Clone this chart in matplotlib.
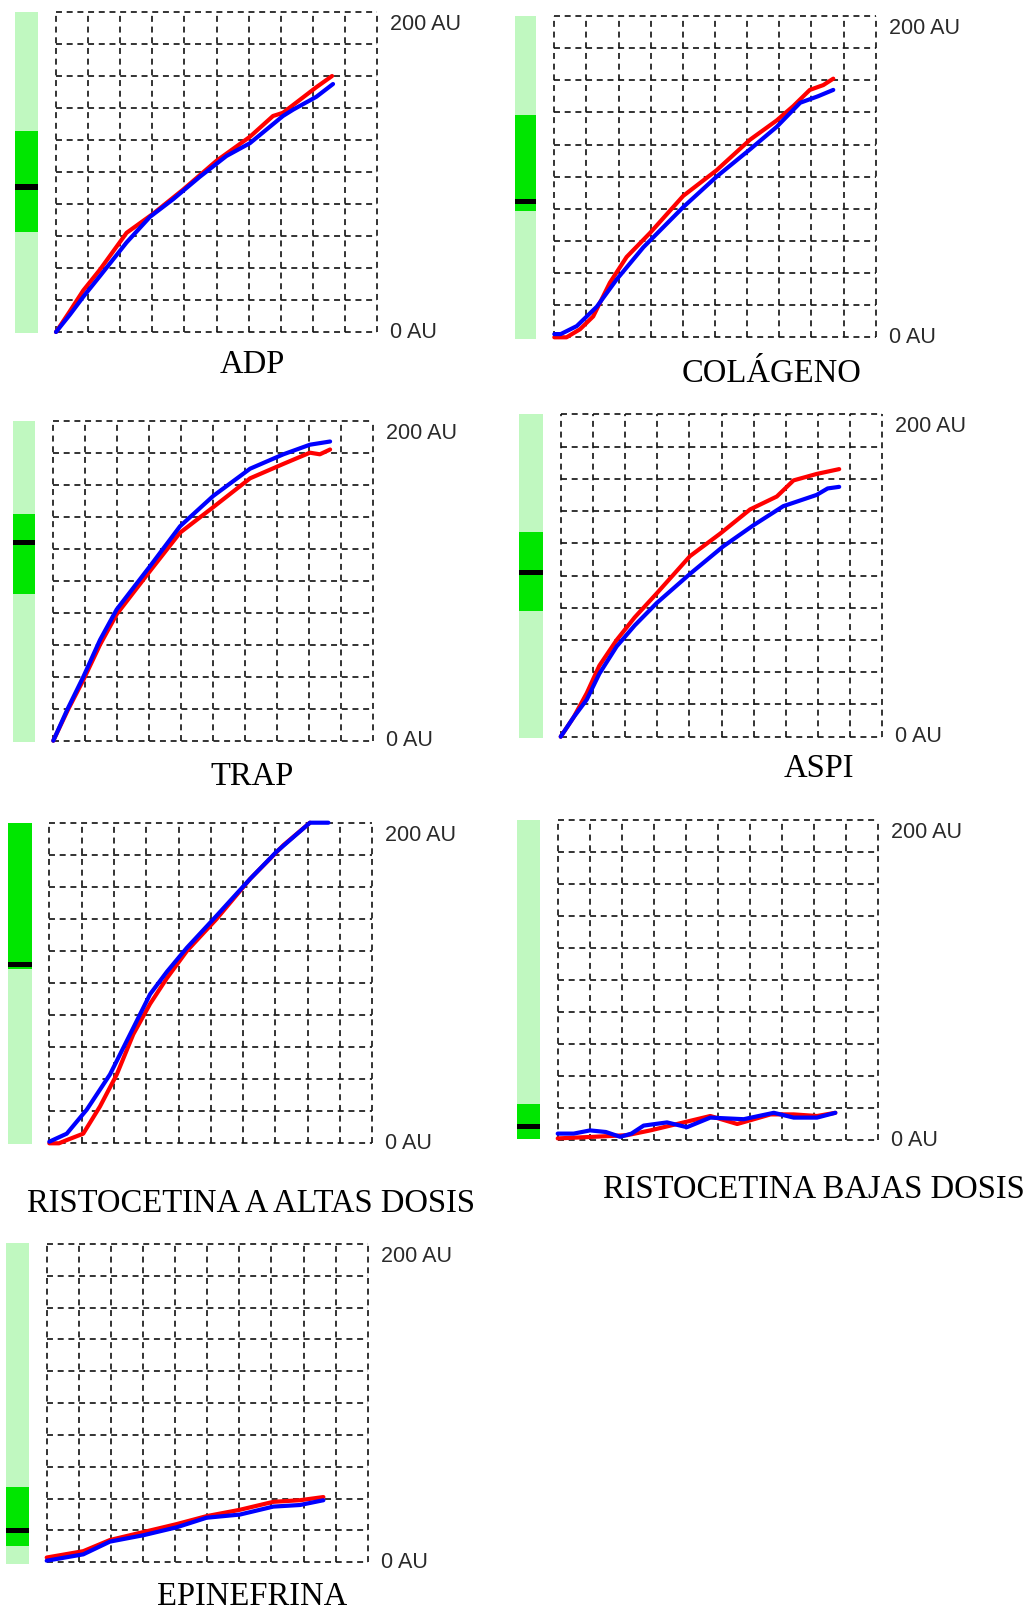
import numpy as np
import matplotlib
matplotlib.use('Agg')
import matplotlib.pyplot as plt

# Aggregation curves. x is in grid columns (0-10), y in AU (0-200)
titles = ['ADP', 'COLÁGENO', 'TRAP', 'ASPI',
          'RISTOCETINA A ALTAS DOSIS', 'RISTOCETINA BAJAS DOSIS', 'EPINEFRINA']

adp_red_x = [0, 0.4, 0.85, 1.37, 2.2, 3.03, 3.96, 5.0, 6.04, 6.76, 7.07, 7.59, 8.11, 8.6]
adp_red_y = [0, 12, 26, 39, 62, 74, 89, 107, 122, 135, 137, 145, 153, 160]
adp_blue_x = [0, 0.44, 0.85, 1.37, 2.2, 2.93, 3.65, 4.48, 5.31, 6.04, 7.07, 7.39, 8.11, 8.63]
adp_blue_y = [0, 11, 22, 35, 56, 72, 83, 97, 110, 118, 135, 139, 147, 155]

col_red_x = [0, 0.38, 0.8, 1.21, 1.73, 2.25, 2.98, 4.01, 5.05, 6.09, 6.92, 7.44, 7.95, 8.37, 8.68]
col_red_y = [0, 0, 5, 13, 34, 50, 65, 88, 104, 123, 135, 144, 154, 157, 161]
col_blue_x = [0, 0.2, 0.7, 1.32, 1.94, 2.77, 4.01, 5.05, 6.09, 6.92, 7.65, 8.2, 8.68]
col_blue_y = [2, 2, 7, 19, 36, 56, 81, 100, 117, 131, 146, 150, 154]

trap_red_x = [0, 0.45, 0.94, 1.46, 1.98, 3.02, 3.96, 5.0, 6.15, 7.19, 8.02, 8.33, 8.65]
trap_red_y = [0, 19, 38, 60, 79, 106, 130, 146, 164, 173, 180, 179, 182]
trap_blue_x = [0, 0.45, 0.94, 1.46, 1.98, 3.02, 3.96, 5.0, 6.15, 7.19, 8.02, 8.65]
trap_blue_y = [0, 20, 40, 63, 82, 109, 134, 153, 170, 179, 185, 187]

aspi_red_x = [0, 0.4, 0.81, 1.2, 1.74, 2.3, 2.99, 4.02, 4.96, 5.89, 6.72, 7.24, 7.96, 8.66]
aspi_red_y = [0, 12, 27, 44, 60, 74, 89, 112, 126, 141, 149, 159, 163, 166]
aspi_blue_x = [0, 0.4, 0.81, 1.2, 1.74, 2.3, 2.99, 4.02, 5.05, 5.98, 6.92, 7.96, 8.3, 8.66]
aspi_blue_y = [0, 12, 23, 39, 56, 69, 83, 101, 118, 131, 143, 150, 154, 155]

ra_red_x = [0, 0.3, 0.54, 1.05, 1.57, 2.09, 2.6, 3.12, 3.64, 4.26, 5.18, 6.22, 7.25, 8.07]
ra_red_y = [0, 0, 2, 6, 23, 43, 68, 87, 103, 120, 140, 165, 186, 200]
ra_blue_x = [0, 0.54, 1.16, 1.88, 2.6, 3.12, 3.64, 4.26, 5.18, 6.22, 7.04, 8.07, 8.64]
ra_blue_y = [1, 6, 21, 43, 72, 93, 107, 122, 142, 165, 182, 200, 200]

rb_red_x = [0, 1.12, 2.16, 2.89, 3.93, 4.76, 5.6, 6.64, 7.36, 8.09, 8.66]
rb_red_y = [1, 2, 3, 6, 11, 15, 10, 16, 16, 15, 17]
rb_blue_x = [0, 0.5, 1.01, 1.5, 1.95, 2.3, 2.68, 3.41, 4.03, 4.76, 5.8, 6.74, 7.36, 8.09, 8.66]
rb_blue_y = [4, 4, 6, 5, 2, 4, 9, 11, 8, 14, 13, 17, 14, 14, 17]

epi_red_x = [0, 1.14, 1.97, 3.01, 4.05, 4.98, 6.02, 7.06, 7.89, 8.62]
epi_red_y = [3, 7, 14, 19, 24, 29, 33, 38, 39, 41]
epi_blue_x = [0, 1.14, 1.97, 3.01, 4.05, 4.98, 6.02, 7.06, 7.89, 8.62]
epi_blue_y = [1, 5, 13, 17, 22, 28, 30, 35, 36, 39]

# reference range (dark green) and result marker (black) on the side bar, in AU
range_low = [63, 79, 92, 78, 109, 0, 11]
range_high = [126, 139, 142, 127, 200, 22, 48]
marker = [91, 85, 124, 102, 112, 8, 21]

red_x = [adp_red_x, col_red_x, trap_red_x, aspi_red_x, ra_red_x, rb_red_x, epi_red_x]
red_y = [adp_red_y, col_red_y, trap_red_y, aspi_red_y, ra_red_y, rb_red_y, epi_red_y]
blue_x = [adp_blue_x, col_blue_x, trap_blue_x, aspi_blue_x, ra_blue_x, rb_blue_x, epi_blue_x]
blue_y = [adp_blue_y, col_blue_y, trap_blue_y, aspi_blue_y, ra_blue_y, rb_blue_y, epi_blue_y]

# layout in pixels: grid (left, right, top, bottom), bar (left, right, top, bottom), title (x, baseline)
W, H = 1027, 1612
grid_px = [(56, 377, 12, 332), (554.3, 875.7, 16, 337.3), (53.3, 373.3, 420.7, 740.7),
           (560.7, 882.3, 414.3, 736.7), (49.3, 372.3, 822.7, 1143.3), (557.7, 878.3, 820, 1140),
           (46.7, 367.7, 1244, 1562.3)]
bar_px = [(15, 38, 12, 333), (515, 536, 16, 339), (12.7, 35.3, 420.7, 741.7),
          (519.3, 542.7, 414, 737.7), (8.3, 31.7, 822.7, 1144), (517.3, 540, 820, 1139.3),
          (6, 29.3, 1242.7, 1564)]
title_px = [(252, 373), (771.7, 381.7), (252, 785), (819, 776.7), (250.8, 1211.7),
            (814, 1198), (251.7, 1605)]

plt.rcParams['lines.scale_dashes'] = False
fig = plt.figure(figsize=(W / 100, H / 100), dpi=100)


def rect(l, r, t, b):
    return [l / W, 1 - b / H, (r - l) / W, (b - t) / H]


for i in range(7):
    l, r, t, b = grid_px[i]
    ax = fig.add_axes(rect(l, r, t, b))
    ax.set_xlim(0, 10)
    ax.set_ylim(0, 200)
    ax.axis('off')
    # dashed 10x10 grid
    for k in range(11):
        ax.axvline(k, color='#111111', lw=1.2, dashes=(4.3, 3.4), clip_on=False)
        ax.axhline(k * 20, color='#111111', lw=1.2, dashes=(4.3, 3.4), clip_on=False)
    ax.plot(red_x[i], red_y[i], color='#ff0000', lw=3.0, clip_on=False, solid_capstyle='round')
    ax.plot(blue_x[i], blue_y[i], color='#0000ff', lw=3.0, clip_on=False, solid_capstyle='round')

    fig.text((r + 13) / W, 1 - (t + 18) / H, '200 AU', family='Liberation Sans',
             fontsize=15.5, color='#2a2a2a', ha='left', va='baseline')
    fig.text((r + 13) / W, 1 - (b + 5.5) / H, '0 AU', family='Liberation Sans',
             fontsize=15.5, color='#2a2a2a', ha='left', va='baseline')

    # side bar
    bl, br, bt, bb = bar_px[i]
    bx = fig.add_axes(rect(bl, br, bt, bb))
    bx.set_xlim(0, 1)
    bx.set_ylim(0, 200)
    bx.axis('off')
    bx.axhspan(0, 200, color='#c0f8c0', lw=0)
    bx.axhspan(range_low[i], range_high[i], color='#00e600', lw=0)
    bx.axhspan(marker[i] - 1.6, marker[i] + 1.6, color='#000000', lw=0)

    tx, ty = title_px[i]
    fig.text(tx / W, 1 - ty / H, titles[i], family='Liberation Serif', fontsize=23.5,
             color='black', ha='center', va='baseline')

fig.savefig('out.png', dpi=100)
